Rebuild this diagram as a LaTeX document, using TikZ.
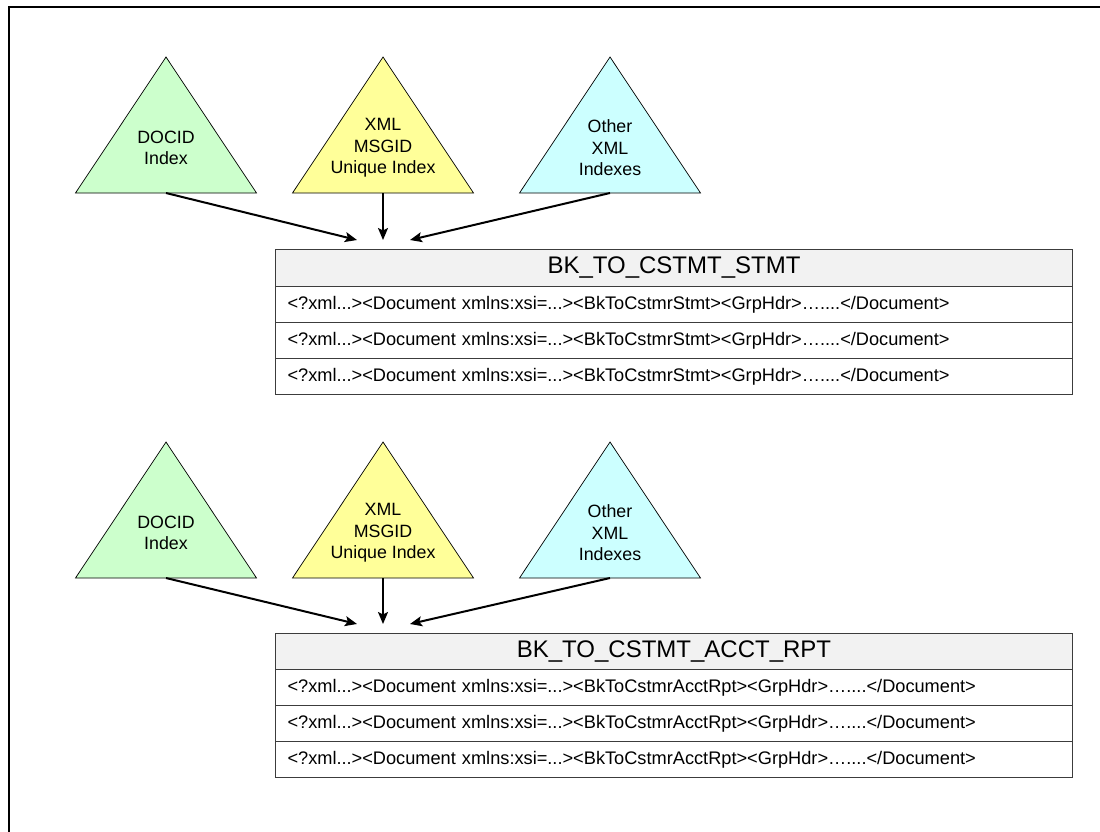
\documentclass[tikz,border=0pt]{standalone}
\usepackage{fontspec}
\setmainfont{Liberation Sans}
\usetikzlibrary{arrows.meta}

\definecolor{idxgreen}{HTML}{CCFFCC}
\definecolor{idxyellow}{HTML}{FFFF99}
\definecolor{idxcyan}{HTML}{CCFFFF}
\definecolor{hdrgray}{HTML}{F2F2F2}
\definecolor{gridline}{HTML}{3C3C3C}

\tikzset{
  tri/.style={draw=black, line width=0.7pt, line join=miter},
  tritext/.style={align=center, inner sep=0pt,
    font=\fontsize{17.8}{21.5}\selectfont},
  conn/.style={line width=2pt, -{Stealth[length=12pt, width=10pt, inset=2.5pt]}},
  hdrbox/.style={draw=gridline, line width=1pt, fill=hdrgray,
    anchor=north west, minimum width=797pt, minimum height=37pt,
    inner sep=0pt, font=\fontsize{24}{26}\selectfont},
  rowbox/.style={draw=gridline, line width=1pt, fill=white,
    anchor=north west, minimum width=797pt, minimum height=36pt,
    inner xsep=12pt, inner ysep=0pt, text width=773pt, align=left,
    font=\fontsize{18.2}{20}\selectfont},
}

% index triangle: name, apex x, apex y, fill colour, label
\newcommand\indextri[5]{%
  \filldraw[tri, fill=#4] (#2,#3) -- ++(-90.5,136) -- ++(181,0) -- cycle;
  \node[tritext] (#1) at (#2,#3+91) {#5};
  \coordinate (#1-base) at (#2,#3+136);
}

\begin{document}
\begin{tikzpicture}[x=1pt, y=-1pt]
\useasboundingbox (0,0) rectangle (1100,832);
\fill[white] (0,0) rectangle (1100,832);

% outer frame
\draw[line width=1.6pt] (9,832) -- (9,7) -- (1100,7);

% ---------- statement table ----------
\indextri{docA}{166}{57}{idxgreen}{DOCID\\Index}
\indextri{msgA}{383}{57}{idxyellow}{XML\\MSGID\\Unique Index}
\indextri{othA}{610}{57}{idxcyan}{Other\\XML\\Indexes}

\node[hdrbox] (stmt) at (275,249) {BK\_TO\_CSTMT\_STMT};
\node[rowbox] (stmt1) at (275,286) {<?xml...><Document xmlns:xsi=...><BkToCstmrStmt><GrpHdr>…....</Document>};
\node[rowbox] (stmt2) at (275,322) {<?xml...><Document xmlns:xsi=...><BkToCstmrStmt><GrpHdr>…....</Document>};
\node[rowbox] (stmt3) at (275,358) {<?xml...><Document xmlns:xsi=...><BkToCstmrStmt><GrpHdr>…....</Document>};

\coordinate (stmtL) at (357,240);
\coordinate (stmtM) at (383,240);
\coordinate (stmtR) at (410,240);
\draw[conn] (docA-base) -- (stmtL);
\draw[conn] (msgA-base) -- (stmtM);
\draw[conn] (othA-base) -- (stmtR);

% ---------- account report table ----------
\indextri{docB}{166}{442}{idxgreen}{DOCID\\Index}
\indextri{msgB}{383}{442}{idxyellow}{XML\\MSGID\\Unique Index}
\indextri{othB}{610}{442}{idxcyan}{Other\\XML\\Indexes}

\node[hdrbox, minimum height=36pt] (acct) at (275,633) {BK\_TO\_CSTMT\_ACCT\_RPT};
\node[rowbox] (acct1) at (275,669) {<?xml...><Document xmlns:xsi=...><BkToCstmrAcctRpt><GrpHdr>…....</Document>};
\node[rowbox] (acct2) at (275,705) {<?xml...><Document xmlns:xsi=...><BkToCstmrAcctRpt><GrpHdr>…....</Document>};
\node[rowbox] (acct3) at (275,741) {<?xml...><Document xmlns:xsi=...><BkToCstmrAcctRpt><GrpHdr>…....</Document>};

\coordinate (acctL) at (357,624);
\coordinate (acctM) at (383,624);
\coordinate (acctR) at (410,624);
\draw[conn] (docB-base) -- (acctL);
\draw[conn] (msgB-base) -- (acctM);
\draw[conn] (othB-base) -- (acctR);
\end{tikzpicture}
\end{document}
